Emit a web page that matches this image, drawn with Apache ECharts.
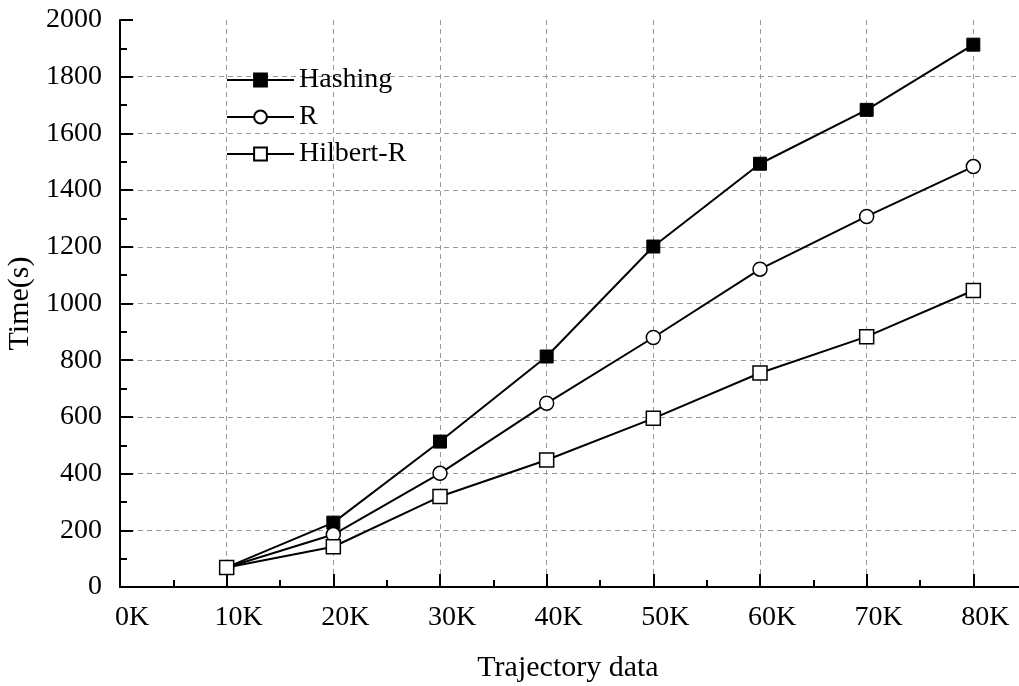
<!DOCTYPE html>
<html>
<head>
<meta charset="utf-8">
<script src="https://cdn.jsdelivr.net/npm/echarts@6/dist/echarts.min.js"></script>
<style>html,body{margin:0;padding:0;background:#fff;}#c{width:1019px;height:686px;}</style>
</head>
<body>
<div id="c"></div>
<script>
var sizesK = [10, 20, 30, 40, 50, 60, 70, 80];
var hashing = [69, 227, 513, 813, 1201, 1493, 1683, 1913];
var rtree = [69, 185, 401, 648, 880, 1121, 1307, 1483];
var hilbert = [69, 142, 319, 448, 595, 755, 883, 1046];
var seriesNames = ['Hashing', 'R', 'Hilbert-R'];

function pairs(vals) { return sizesK.map(function (k, i) { return [k, vals[i]]; }); }

var FONT = "'Liberation Serif', 'Times New Roman', serif";
var chart = echarts.init(document.getElementById('c'), null, {renderer: 'canvas'});
chart.setOption({
  animation: false,
  backgroundColor: '#fff',
  grid: {left: 120, right: -61, top: 20, bottom: 99, containLabel: false, outerBoundsMode: 'none'},
  legend: {
    orient: 'vertical', left: 221, top: 61, itemGap: 9,
    itemWidth: 67, itemHeight: 16,
    textStyle: {fontFamily: FONT, fontSize: 28, color: '#000'},
    data: seriesNames
  },
  xAxis: {
    type: 'value', min: 0, max: 90, interval: 10,
    name: 'Trajectory data', nameLocation: 'middle', nameGap: 66,
    nameTextStyle: {fontFamily: FONT, fontSize: 30, color: '#000', verticalAlign: 'top', padding: [0, 64, 0, 0]},
    axisLine: {show: true, lineStyle: {color: '#000', width: 2}},
    axisTick: {show: true, inside: true, length: 13, lineStyle: {color: '#000', width: 2}},
    minorTick: {show: true, splitNumber: 2, length: 7, lineStyle: {color: '#000', width: 2}},
    axisLabel: {fontFamily: FONT, fontSize: 28, color: '#000', margin: 17, padding: [0, 0, 0, 24],
      formatter: function (v) { return v % 10 === 0 && v <= 80 ? v + 'K' : ''; }},
    splitLine: {show: true, showMinLine: false, lineStyle: {color: '#999', type: [5, 4], width: 1}}
  },
  yAxis: {
    type: 'value', min: 0, max: 2000, interval: 200,
    name: 'Time(s)', nameLocation: 'middle', nameGap: 78, nameRotate: 90,
    nameTextStyle: {fontFamily: FONT, fontSize: 30, color: '#000'},
    axisLine: {show: true, lineStyle: {color: '#000', width: 2}},
    axisTick: {show: true, inside: true, length: 13, lineStyle: {color: '#000', width: 2}},
    minorTick: {show: true, splitNumber: 2, length: 7, lineStyle: {color: '#000', width: 2}},
    axisLabel: {fontFamily: FONT, fontSize: 28, color: '#000', margin: 18,
      formatter: function (v) { return String(v); }},
    splitLine: {show: true, showMinLine: false, showMaxLine: false, lineStyle: {color: '#999', type: [5, 4], width: 1}}
  },
  series: [
    {name: seriesNames[0], type: 'line', data: pairs(hashing), symbol: 'rect', symbolSize: 13,
      lineStyle: {color: '#000', width: 2}, itemStyle: {color: '#000', borderColor: '#000', borderWidth: 1}},
    {name: seriesNames[1], type: 'line', data: pairs(rtree), symbol: 'circle', symbolSize: 14,
      lineStyle: {color: '#000', width: 2}, itemStyle: {color: '#fff', borderColor: '#000', borderWidth: 1.5}},
    {name: seriesNames[2], type: 'line', data: pairs(hilbert), symbol: 'rect', symbolSize: 14,
      lineStyle: {color: '#000', width: 2}, itemStyle: {color: '#fff', borderColor: '#000', borderWidth: 1.5}}
  ]
});
</script>
</body>
</html>
